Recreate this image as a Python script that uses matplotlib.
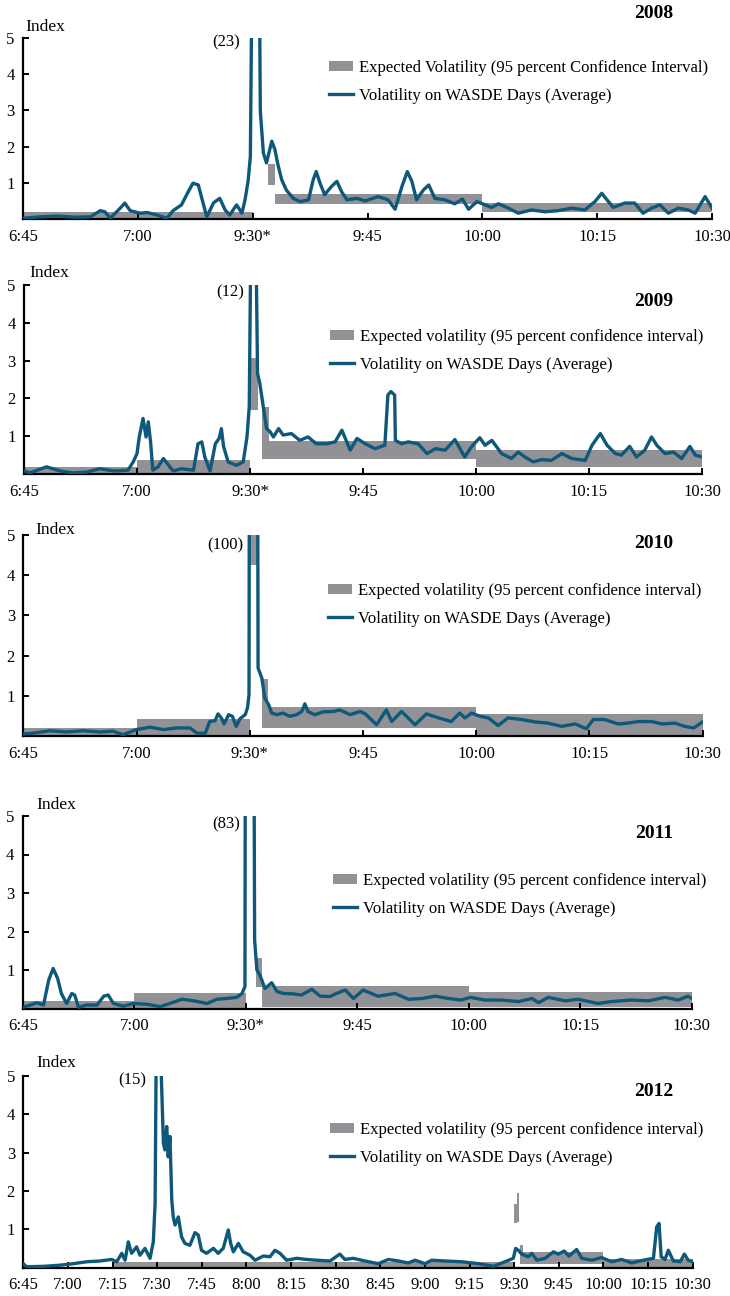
import matplotlib
matplotlib.use('Agg')
import matplotlib.pyplot as plt
from matplotlib.patches import Patch
from matplotlib.lines import Line2D

plt.rcParams['font.family'] = ['Liberation Serif', 'DejaVu Serif']

# ---- data --------------------------------------------------------------
years = ['2008', '2009', '2010', '2011', '2012']
peaks = [23, 12, 100, 83, 15]          # off-scale peak values shown in ()

ticks_short = ['6:45', '7:00', '9:30*', '9:45', '10:00', '10:15', '10:30']
ticks_2012 = ['6:45', '7:00', '7:15', '7:30', '7:45', '8:00', '8:15', '8:30',
              '8:45', '9:00', '9:15', '9:30', '9:45', '10:00', '10:15', '10:30']

# time in minutes from the first tick (15 min per tick)
t2008 = [0, 2.2, 4.4, 7.0, 8.8, 10.1, 10.7, 11.4, 12.7, 13.3, 14.0, 15.3, 16.2, 17.5,
         18.8, 19.6, 20.7, 21.6, 22.2, 22.9, 23.3, 24.0, 24.9, 25.7, 26.4, 27.0, 27.9,
         28.6, 29.0, 29.4, 29.7, 30.0, 30.3, 30.7, 31.0, 31.4, 31.8, 32.5, 32.9, 33.3,
         33.8, 34.4, 35.3, 36.2, 37.3, 37.9, 38.3, 38.8, 39.4, 40.3, 41.0, 41.6, 42.3,
         43.6, 44.7, 46.4, 47.7, 48.6, 49.5, 50.2, 50.8, 51.4, 52.3, 53.0, 53.8, 55.1,
         56.4, 57.4, 58.2, 59.3, 60.0, 61.2, 62.1, 63.4, 64.7, 66.4, 68.2, 69.9, 71.7,
         73.4, 74.7, 75.6, 76.2, 77.1, 78.6, 79.9, 81.0, 82.1, 83.2, 84.3, 85.6, 86.9,
         87.8, 89.1, 90.0]
v2008 = [0.02, 0.06, 0.08, 0.05, 0.06, 0.23, 0.2, 0.02, 0.3, 0.44, 0.23, 0.16, 0.18, 0.11,
         0.02, 0.23, 0.39, 0.76, 0.99, 0.94, 0.62, 0.06, 0.45, 0.57, 0.25, 0.11, 0.39,
         0.16, 0.53, 1.04, 1.73, 9.0, 23.0, 12.0, 2.98, 1.82, 1.55, 2.15, 1.92, 1.5,
         1.08, 0.8, 0.57, 0.48, 0.53, 1.08, 1.31, 0.99, 0.67, 0.9, 1.04, 0.76, 0.53,
         0.57, 0.5, 0.62, 0.53, 0.27, 0.9, 1.31, 1.04, 0.53, 0.8, 0.94, 0.57, 0.53,
         0.42, 0.55, 0.27, 0.48, 0.42, 0.32, 0.42, 0.3, 0.16, 0.25, 0.2, 0.23, 0.3,
         0.25, 0.48, 0.71, 0.55, 0.32, 0.44, 0.44, 0.16, 0.3, 0.39, 0.16, 0.3, 0.25,
         0.16, 0.62, 0.3]

t2009 = [0, 0.8, 3.0, 4.8, 6.5, 8.3, 10.1, 11.9, 13.8, 14.5, 15.0, 15.3, 15.8, 16.2,
         16.5, 16.8, 17.1, 17.8, 18.5, 19.2, 19.8, 20.9, 22.5, 23.1, 23.6, 24.0, 24.7,
         25.4, 25.9, 26.2, 26.5, 27.1, 28.2, 29.1, 29.6, 29.9, 30.2, 30.5, 30.8, 31.0,
         31.3, 31.8, 32.2, 32.7, 33.1, 33.8, 34.4, 35.5, 36.6, 37.7, 38.8, 40.2, 41.3,
         42.2, 43.3, 44.2, 45.3, 46.6, 47.9, 48.3, 48.7, 49.2, 49.3, 50.1, 51.0, 52.3,
         53.5, 54.6, 55.9, 57.2, 58.5, 59.4, 60.5, 61.2, 62.1, 63.4, 64.7, 65.6, 66.5,
         67.6, 68.7, 70.0, 71.4, 72.7, 74.5, 75.4, 76.5, 77.4, 78.5, 79.3, 80.4, 81.3,
         82.4, 83.3, 84.0, 85.1, 86.2, 87.3, 88.4, 89.1, 90.0]
v2009 = [0.08, 0.03, 0.19, 0.08, 0.03, 0.05, 0.14, 0.08, 0.1, 0.32, 0.54, 0.98, 1.47, 0.98,
         1.38, 0.85, 0.1, 0.19, 0.41, 0.23, 0.08, 0.14, 0.1, 0.8, 0.85, 0.45, 0.08,
         0.8, 0.94, 1.2, 0.72, 0.32, 0.23, 0.32, 0.98, 1.78, 8.0, 12.0, 6.0, 2.66,
         2.4, 1.73, 1.2, 1.11, 0.98, 1.2, 1.03, 1.07, 0.89, 0.98, 0.8, 0.8, 0.85,
         1.16, 0.63, 0.94, 0.8, 0.67, 0.76, 2.09, 2.18, 2.09, 0.89, 0.8, 0.85, 0.8,
         0.54, 0.67, 0.63, 0.91, 0.45, 0.72, 0.96, 0.76, 0.89, 0.54, 0.41, 0.58, 0.45,
         0.32, 0.38, 0.36, 0.54, 0.41, 0.36, 0.76, 1.07, 0.76, 0.54, 0.5, 0.73, 0.45,
         0.63, 0.98, 0.76, 0.54, 0.58, 0.41, 0.73, 0.5, 0.45]

t2010 = [0, 1.3, 3.5, 5.7, 7.9, 10.2, 11.9, 13.2, 15.0, 16.8, 18.5, 20.3, 22.1, 23.0,
         24.1, 24.7, 25.4, 25.8, 26.3, 26.6, 27.2, 27.7, 28.2, 28.7, 29.4, 29.7, 29.9,
         30.2, 30.5, 30.8, 31.1, 31.6, 32.0, 32.5, 32.9, 33.6, 34.4, 35.3, 36.2, 36.9,
         37.3, 37.7, 38.6, 39.7, 41.1, 41.9, 43.3, 44.6, 45.3, 46.8, 48.1, 48.8, 50.1,
         51.9, 53.4, 55.0, 56.7, 57.8, 58.5, 59.4, 60.5, 61.6, 62.9, 64.2, 66.0, 67.8,
         69.5, 71.3, 73.1, 74.6, 75.5, 77.0, 78.8, 80.1, 81.5, 83.2, 84.6, 86.3, 87.6,
         88.8, 90.0]
v2010 = [0.05, 0.07, 0.13, 0.1, 0.13, 0.1, 0.12, 0.03, 0.16, 0.22, 0.16, 0.2, 0.2, 0.07,
         0.07, 0.36, 0.38, 0.55, 0.43, 0.3, 0.53, 0.49, 0.24, 0.43, 0.53, 0.7, 1.03,
         40.0, 100.0, 30.0, 1.69, 1.44, 0.94, 0.78, 0.57, 0.53, 0.57, 0.49, 0.53, 0.61,
         0.8, 0.61, 0.53, 0.6, 0.61, 0.65, 0.53, 0.61, 0.55, 0.28, 0.65, 0.36, 0.61,
         0.28, 0.55, 0.45, 0.36, 0.57, 0.45, 0.57, 0.49, 0.45, 0.26, 0.45, 0.41, 0.35,
         0.32, 0.24, 0.3, 0.18, 0.41, 0.41, 0.3, 0.32, 0.36, 0.36, 0.3, 0.32, 0.24,
         0.2, 0.35]

t2011 = [0, 1.0, 1.9, 2.8, 3.5, 4.1, 4.7, 5.2, 5.9, 6.6, 7.0, 7.5, 8.6, 10.0, 10.9, 11.5,
         12.2, 13.5, 14.9, 16.7, 18.5, 19.8, 21.4, 23.0, 24.8, 26.1, 27.4, 28.8, 29.5,
         29.9, 30.2, 30.5, 30.9, 31.2, 31.5, 31.9, 32.6, 33.5, 34.2, 35.1, 36.4, 37.5,
         38.9, 40.0, 41.3, 42.2, 43.4, 44.5, 45.8, 47.8, 50.1, 51.9, 53.7, 55.5, 57.3,
         59.0, 60.2, 62.2, 64.4, 66.7, 68.5, 69.4, 70.7, 73.0, 74.7, 77.4, 79.2, 81.9,
         84.2, 86.4, 88.2, 89.5, 90.0]
v2011 = [0.03, 0.09, 0.15, 0.09, 0.74, 1.04, 0.78, 0.39, 0.13, 0.39, 0.35, 0.03, 0.09,
         0.09, 0.32, 0.35, 0.13, 0.06, 0.13, 0.11, 0.05, 0.13, 0.24, 0.2, 0.13, 0.24,
         0.26, 0.29, 0.39, 0.57, 40.0, 83.0, 20.0, 1.78, 1.0, 0.87, 0.52, 0.67, 0.44,
         0.39, 0.38, 0.35, 0.5, 0.32, 0.31, 0.39, 0.48, 0.26, 0.48, 0.32, 0.39, 0.24,
         0.26, 0.32, 0.26, 0.22, 0.29, 0.22, 0.22, 0.18, 0.26, 0.15, 0.29, 0.2, 0.24,
         0.13, 0.18, 0.22, 0.2, 0.29, 0.22, 0.32, 0.26]

t2012 = [0, 1.1, 6.7, 12.3, 16.8, 21.3, 25.8, 29.7, 31.4, 33.1, 34.2, 35.3, 36.4, 38.1,
         39.2, 40.9, 42.6, 43.7, 44.3, 44.9, 45.4, 46.0, 46.5, 47.1, 47.6, 48.2, 48.7,
         49.3, 49.9, 50.4, 51.0, 52.1, 53.2, 54.3, 56.0, 57.7, 58.8, 59.9, 61.6, 63.9,
         65.5, 67.2, 68.9, 69.7, 70.6, 72.3, 73.9, 76.2, 77.9, 80.7, 82.9, 84.6, 86.3,
         88.5, 91.9, 95.2, 98.6, 103.1, 106.4, 108.1, 110.9, 114.8, 119.3, 122.7, 126.1,
         129.4, 131.7, 135.0, 137.3, 141.8, 147.4, 153.0, 158.0, 161.9, 164.7, 165.5,
         166.4, 167.5, 169.8, 170.9, 172.6, 175.4, 178.2, 179.8, 181.8, 183.4, 186.0,
         187.7, 191.1, 194.4, 197.8, 201.1, 204.5, 208.4, 211.8, 212.9, 213.7, 214.4,
         215.7, 216.8, 218.5, 220.8, 222.2, 223.5, 225.0]
v2012 = [0.1, 0.02, 0.03, 0.06, 0.1, 0.15, 0.17, 0.21, 0.15, 0.37, 0.19, 0.67, 0.37, 0.54,
         0.32, 0.5, 0.24, 0.67, 1.67, 8.0, 15.0, 6.0, 4.72, 3.24, 3.07, 3.68, 2.89,
         3.42, 1.76, 1.32, 1.11, 1.32, 0.8, 0.63, 0.58, 0.91, 0.85, 0.45, 0.37, 0.5,
         0.37, 0.5, 0.98, 0.63, 0.41, 0.63, 0.41, 0.32, 0.19, 0.3, 0.28, 0.45, 0.37,
         0.19, 0.24, 0.21, 0.19, 0.17, 0.35, 0.21, 0.24, 0.17, 0.1, 0.21, 0.17,
         0.12, 0.19, 0.1, 0.19, 0.17, 0.15, 0.1, 0.03, 0.15, 0.24, 0.5,
         0.45, 0.35, 0.28, 0.37, 0.19, 0.24, 0.41, 0.35, 0.43, 0.3, 0.47,
         0.24, 0.19, 0.26, 0.15, 0.21, 0.12, 0.19, 0.24, 1.06, 1.15, 0.28,
         0.21, 0.45, 0.17, 0.15, 0.35, 0.19, 0.15]

# expected volatility bands: (start, end, low, high)
band2008 = [(0, 30, 0.02, 0.18), (32.0, 32.9, 0.94, 1.53), (32.9, 60, 0.42, 0.69),
            (60, 90, 0.2, 0.45)]
band2009 = [(0, 15, 0.02, 0.18), (15, 30, 0.03, 0.36), (30, 31, 1.69, 3.06),
            (31.6, 32.5, 0.41, 1.78), (32.5, 60, 0.41, 0.88), (60, 90, 0.19, 0.63)]
band2010 = [(0, 15, 0.03, 0.21), (15, 30, 0.03, 0.43), (30, 31, 4.25, 6.0),
            (31.6, 32.4, 0.2, 1.42), (32.4, 60, 0.2, 0.71), (60, 90, 0.03, 0.55)]
band2011 = [(0, 15, 0.02, 0.2), (15, 30, 0.02, 0.39), (31.4, 32.2, 0.55, 1.3),
            (32.2, 60, 0.05, 0.58), (60, 90, 0.05, 0.44)]
band2012 = [(30, 165, 0.02, 0.15), (165, 165.8, 1.15, 1.65), (165.8, 166.6, 1.2, 1.95),
            (166.8, 168, 0.1, 0.58), (168, 195, 0.1, 0.4), (195, 225, 0.0, 0.22)]

series = [(t2008, v2008), (t2009, v2009), (t2010, v2010), (t2011, v2011), (t2012, v2012)]
bands = [band2008, band2009, band2010, band2011, band2012]
exp_label = ['Expected Volatility (95 percent Confidence Interval)'] + \
            ['Expected volatility (95 percent confidence interval)'] * 4
vol_label = 'Volatility on WASDE Days (Average)'

# ---- layout (pixels in a 730x1296 figure) --------------------------------
W, H = 730, 1296
LINE = '#0e587a'
GRAY = '#929296'
# left, right, y of 5, y of 0
boxes = [(23, 712, 38, 219), (24, 702, 285, 474), (23.3, 702.7, 535, 736),
         (22.7, 691.7, 816, 1008.5), (23.3, 692.7, 1076, 1267.5)]
index_pos = [(25, 27), (29, 273), (35, 530), (36, 805), (36, 1063)]
year_y = [14, 302, 544, 833, 1092]
peak_pos = [(240, 42), (244, 292), (243, 545), (240, 824), (146, 1080)]
legend_pos = [(329, 60), (330, 329), (328, 583), (333, 873), (330, 1122)]

fig = plt.figure(figsize=(W / 100, H / 100), dpi=100)

for i in range(5):
    l, r, top, bot = boxes[i]
    ax = fig.add_axes([l / W, 1 - bot / H, (r - l) / W, (bot - top) / H])
    for x0, x1, lo, hi in bands[i]:
        ax.fill_between([x0, x1], [lo, lo], [hi, hi], color=GRAY, lw=0, zorder=1)
    t, v = series[i]
    ax.plot(t, v, color=LINE, lw=2.4, zorder=3, solid_joinstyle='round')

    xmax = 225 if i == 4 else 90
    labels = ticks_2012 if i == 4 else ticks_short
    ax.set_xlim(0, xmax)
    ax.set_ylim(0, 5)
    ax.set_xticks(range(0, xmax + 1, 15))
    ax.set_xticklabels(labels)
    ax.set_yticks([1, 2, 3, 4, 5])
    for s in ['top', 'right']:
        ax.spines[s].set_visible(False)
    for s in ['left', 'bottom']:
        ax.spines[s].set_linewidth(1.6)
    ax.tick_params(axis='both', direction='in', length=4, width=1.4, labelsize=12)
    ax.tick_params(axis='x', pad=7)
    ax.tick_params(axis='y', pad=6)
    ax.patch.set_alpha(0)

    handles = [Patch(facecolor=GRAY, edgecolor='none'),
               Line2D([0], [0], color=LINE, lw=2.4)]
    lx, ly = legend_pos[i]
    ax.legend(handles, [exp_label[i], vol_label], loc='upper left',
              bbox_to_anchor=(lx / W, 1 - ly / H), bbox_transform=fig.transFigure,
              frameon=False, borderpad=0, borderaxespad=0, handlelength=1.45,
              handleheight=0.5, handletextpad=0.35, labelspacing=0.7, fontsize=12)

    ix, iy = index_pos[i]
    fig.text(ix / W, 1 - iy / H, 'Index', ha='left', va='center', fontsize=12.5)
    fig.text(673 / W, 1 - year_y[i] / H, years[i], ha='right', va='center',
             fontsize=14, fontweight='bold')
    px, py = peak_pos[i]
    fig.text(px / W, 1 - py / H, '(%d)' % peaks[i], ha='right', va='center', fontsize=12)

fig.savefig('out.png', dpi=100)
